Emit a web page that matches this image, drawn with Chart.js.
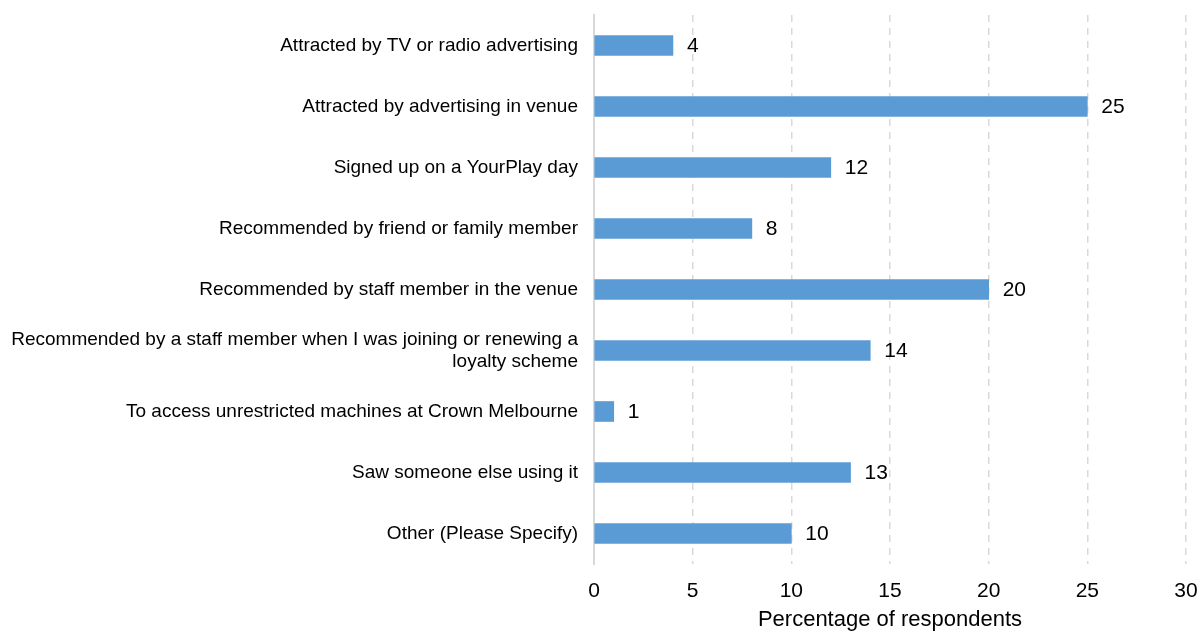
<!DOCTYPE html>
<html>
<head>
<meta charset="utf-8">
<script src="https://cdn.jsdelivr.net/npm/chart.js@4/dist/chart.umd.min.js"></script>
<style>
  html, body { margin: 0; padding: 0; background: #fff; }
  #wrap { width: 1203px; height: 633px; position: relative; }
</style>
</head>
<body>
<div id="wrap"><canvas id="c"></canvas></div>
<script>
// How respondents came to use YourPlay (percentage of respondents)
const categories = [
  'Attracted by TV or radio advertising',
  'Attracted by advertising in venue',
  'Signed up on a YourPlay day',
  'Recommended by friend or family member',
  'Recommended by staff member in the venue',
  ['Recommended by a staff member when I was joining or renewing a', 'loyalty scheme'],
  'To access unrestricted machines at Crown Melbourne',
  'Saw someone else using it',
  'Other (Please Specify)'
];
const percentages = [4, 25, 12, 8, 20, 14, 1, 13, 10];
const xTicks = [0, 5, 10, 15, 20, 25, 30];
const axisTitle = 'Percentage of respondents';

const FONT = '"Liberation Sans", Arial, sans-serif';

// Value labels to the right of each bar
const valueLabels = {
  id: 'valueLabels',
  afterDatasetsDraw(chart) {
    const ctx = chart.ctx;
    const meta = chart.getDatasetMeta(0);
    ctx.save();
    ctx.font = '21px ' + FONT;
    ctx.fillStyle = '#000';
    ctx.textAlign = 'left';
    ctx.textBaseline = 'middle';
    meta.data.forEach((bar, i) => {
      ctx.fillText(String(percentages[i]), bar.x + 14, bar.y + 1);
    });
    ctx.restore();
  }
};

// Keep the plot area fixed: no extra room reserved for overhanging tick labels
function clearPadding(scale) {
  scale.paddingTop = 0;
  scale.paddingBottom = 0;
  scale.paddingLeft = 0;
  scale.paddingRight = 0;
}

new Chart(document.getElementById('c'), {
  type: 'bar',
  data: {
    labels: categories,
    datasets: [{
      data: percentages,
      backgroundColor: '#5b9bd5',
      borderWidth: 0,
      barThickness: 20
    }]
  },
  options: {
    indexAxis: 'y',
    responsive: true,
    maintainAspectRatio: false,
    animation: false,
    layout: { padding: { top: 15, right: 17, left: 0, bottom: 0 } },
    plugins: {
      legend: { display: false },
      tooltip: { enabled: false }
    },
    scales: {
      x: {
        min: 0,
        max: 30,
        afterBuildTicks(scale) {
          scale.ticks = xTicks.map(v => ({ value: v }));
        },
        afterFit(scale) { scale.height = 69; clearPadding(scale); },
        grid: {
          color: '#d9d9d9',
          lineWidth: 1.5,
          drawTicks: false
        },
        border: { display: false, dash: [7, 6] },
        ticks: {
          color: '#000',
          font: { family: FONT, size: 21 },
          padding: 15
        },
        title: {
          display: true,
          text: axisTitle,
          color: '#000',
          font: { family: FONT, size: 22 },
          padding: { top: 4, bottom: 0 }
        }
      },
      y: {
        afterFit(scale) { scale.width = 594; clearPadding(scale); },
        grid: { display: false, drawTicks: false },
        border: { display: true, color: '#d9d9d9', width: 2 },
        ticks: {
          color: '#000',
          font: { family: FONT, size: 19, lineHeight: 1.15 },
          padding: 16
        }
      }
    }
  },
  plugins: [valueLabels]
});
</script>
</body>
</html>
